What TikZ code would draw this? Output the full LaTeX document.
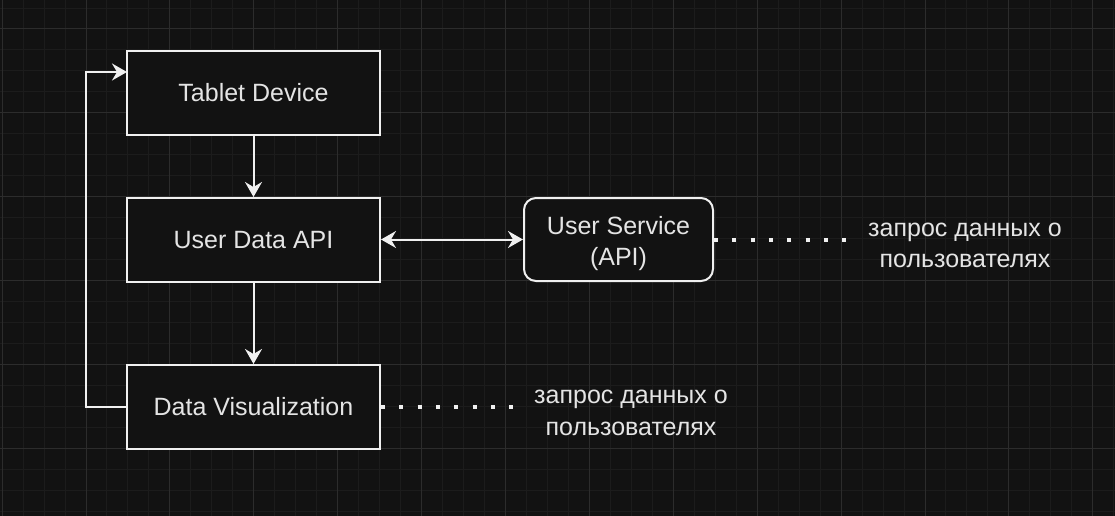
\documentclass[tikz,border=0pt]{standalone}
\usepackage{fontspec}
\setmainfont{Liberation Sans}
\usetikzlibrary{arrows.meta}
\definecolor{bgc}{HTML}{121212}
\definecolor{minorc}{HTML}{1C1C1C}
\definecolor{majorc}{HTML}{2C2C2C}
\definecolor{linec}{HTML}{F0F0F0}
\definecolor{textc}{HTML}{E4E4E4}
\tikzset{
  box/.style={draw=linec, line width=2pt, fill=bgc, minimum width=253pt, minimum height=84pt, inner sep=0pt, text=textc, font=\fontsize{25}{31.5}\selectfont},
  rbox/.style={box, rounded corners=12pt, minimum width=189pt, minimum height=83pt, align=center},
  lbl/.style={text=textc, font=\fontsize{25}{31.5}\selectfont, align=center, inner sep=0pt},
  conn/.style={draw=linec, line width=2pt, -{Stealth[length=15pt, width=17pt, inset=5pt]}},
  dconn/.style={draw=linec, line width=2pt, {Stealth[length=15pt, width=17pt, inset=5pt]}-{Stealth[length=15pt, width=17pt, inset=5pt]}},
  dots/.style={draw=linec, line width=4pt, dash pattern=on 4pt off 14.3pt},
}
\begin{document}
\begin{tikzpicture}[x=1pt, y=-1pt]
\useasboundingbox (0,0) rectangle (1115,516);
\fill[bgc] (0,0) rectangle (1115,516);
\begin{scope}
\clip (0,0) rectangle (1115,516);
\foreach \i in {-4,...,49} {
  \draw[minorc, line width=1pt] ({86+\i*20.975},0) -- ({86+\i*20.975},516);
}
\foreach \j in {-1,...,23} {
  \draw[minorc, line width=1pt] (0,{29+\j*20.975}) -- (1115,{29+\j*20.975});
}
\foreach \i in {-1,...,12} {
  \draw[majorc, line width=1pt] ({86+\i*83.9},0) -- ({86+\i*83.9},516);
}
\foreach \j in {0,...,5} {
  \draw[majorc, line width=1pt] (0,{29+\j*83.9}) -- (1115,{29+\j*83.9});
}
\end{scope}

\node[box] (tablet) at (253.5,93) {Tablet Device};
\node[box] (api) at (253.5,240) {User Data API};
\node[box] (vis) at (253.5,407) {Data Visualization};
\node[box, rounded corners=12pt, minimum width=189pt, minimum height=83pt] (svc) at (618.5,239.5) {};
\node[lbl] (svct) at (618.5,243.5) {User Service\\(API)};

\node[lbl] (l1) at (965,245.5) {запрос данных о\\пользователях};
\node[lbl] (l2) at (631,413) {запрос данных о\\пользователях};

\coordinate (d1) at (852,239.5);
\coordinate (d2) at (517,407);
\coordinate (loopA) at (86,407);
\coordinate (loopB) at (86,72);
\coordinate (tin) at (127,72);

\draw[conn] (tablet) -- (api);
\draw[conn] (api) -- (vis);
\draw[dconn] (api.east |- svc.west) -- (svc.west);
\draw[conn] (vis.west) -- (loopA) -- (loopB) -- (tin);
\draw[dots] (svc.east) -- (d1);
\draw[dots] (vis.east) -- (d2);
\end{tikzpicture}
\end{document}
